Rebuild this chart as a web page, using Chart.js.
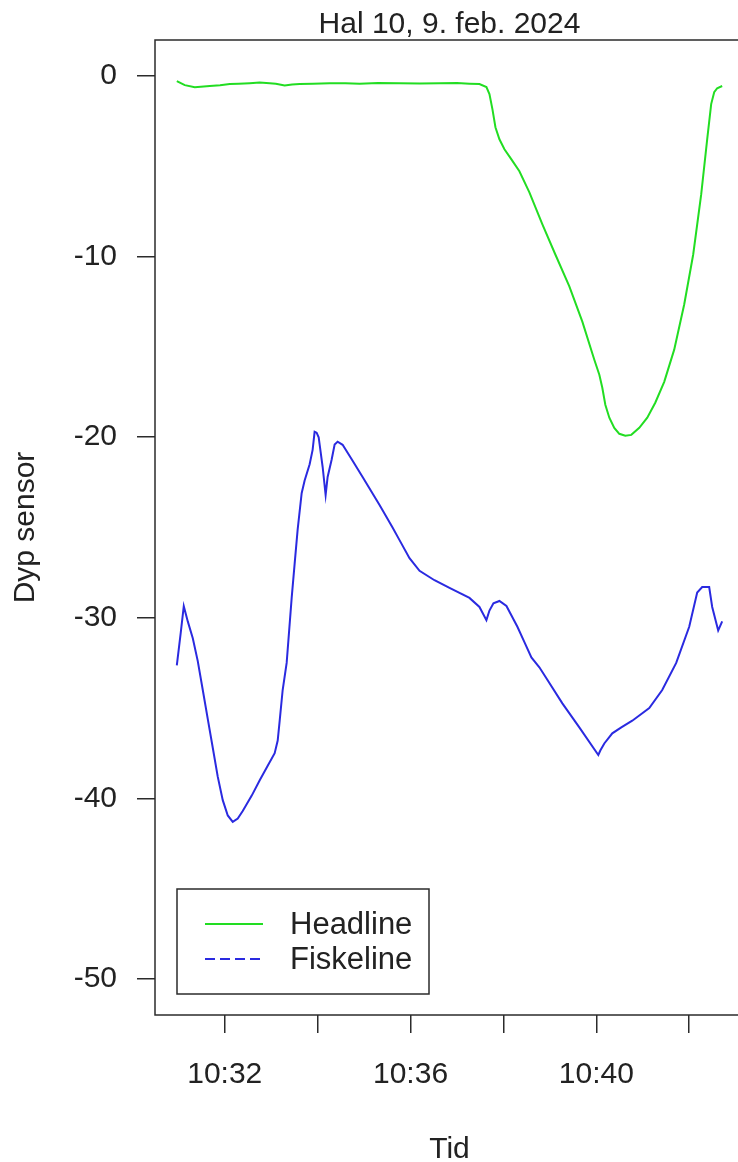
<!DOCTYPE html>
<html>
<head>
<meta charset="utf-8">
<script src="https://cdn.jsdelivr.net/npm/chart.js@4/dist/chart.umd.min.js"></script>
<style>
  html, body { margin: 0; padding: 0; background: #fff; overflow: hidden; width: 738px; height: 1162px; }
  canvas { display: block; position: absolute; left: 0; top: 0; }
</style>
</head>
<body>
<canvas id="c" width="760" height="1162"></canvas>
<script>
// ---- Data (time in minutes after 10:00, value = sensor depth) ----
const headlineTime = [30.968, 31.14, 31.355, 31.677, 31.9, 32.108, 32.3, 32.538, 32.75, 32.968, 33.1, 33.29, 33.45, 33.613, 33.9, 34.258, 34.6, 34.903, 35.3, 35.763, 36.2, 36.624, 37.0, 37.269, 37.484, 37.634, 37.699, 37.763, 37.828, 37.914, 38.022, 38.172, 38.344, 38.559, 38.839, 39.118, 39.419, 39.699, 39.957, 40.065, 40.129, 40.194, 40.280, 40.387, 40.495, 40.624, 40.753, 40.925, 41.097, 41.269, 41.462, 41.677, 41.892, 42.086, 42.258, 42.387, 42.473, 42.538, 42.602, 42.710];
const headlineDepth = [-0.28, -0.5, -0.62, -0.55, -0.5, -0.44, -0.42, -0.39, -0.36, -0.39, -0.42, -0.52, -0.46, -0.44, -0.42, -0.39, -0.4, -0.42, -0.38, -0.39, -0.41, -0.39, -0.38, -0.42, -0.44, -0.61, -1.0, -1.83, -2.83, -3.50, -4.05, -4.61, -5.27, -6.44, -8.21, -9.88, -11.65, -13.60, -15.71, -16.54, -17.26, -18.20, -18.92, -19.48, -19.81, -19.92, -19.87, -19.48, -18.92, -18.09, -16.93, -15.15, -12.65, -9.88, -6.55, -3.50, -1.55, -0.89, -0.67, -0.55];

const fiskelineTime = [30.968, 31.054, 31.118, 31.204, 31.312, 31.419, 31.527, 31.634, 31.742, 31.849, 31.957, 32.065, 32.172, 32.280, 32.387, 32.581, 32.753, 32.925, 33.075, 33.140, 33.183, 33.247, 33.333, 33.441, 33.505, 33.570, 33.656, 33.720, 33.828, 33.892, 33.935, 33.978, 34.022, 34.108, 34.172, 34.215, 34.301, 34.366, 34.430, 34.538, 34.753, 34.968, 35.333, 35.613, 35.763, 35.978, 36.194, 36.516, 36.839, 37.269, 37.484, 37.634, 37.699, 37.785, 37.914, 38.065, 38.301, 38.452, 38.602, 38.774, 38.925, 39.269, 39.634, 40.043, 40.086, 40.172, 40.344, 40.538, 40.774, 41.140, 41.419, 41.720, 42.000, 42.172, 42.280, 42.430, 42.495, 42.624, 42.710];
const fiskelineDepth = [-32.63, -30.8, -29.36, -30.2, -31.13, -32.4, -34.0, -35.6, -37.2, -38.8, -40.1, -40.95, -41.3, -41.12, -40.7, -39.85, -39.0, -38.2, -37.5, -36.8, -35.7, -34.0, -32.5, -28.9, -27.0, -25.1, -23.1, -22.4, -21.5, -20.7, -19.7, -19.75, -20.0, -21.65, -23.2, -22.2, -21.25, -20.4, -20.25, -20.42, -21.3, -22.2, -23.75, -25.0, -25.7, -26.7, -27.4, -27.92, -28.35, -28.9, -29.4, -30.13, -29.6, -29.2, -29.07, -29.35, -30.5, -31.35, -32.2, -32.74, -33.35, -34.74, -36.07, -37.6, -37.35, -36.96, -36.4, -36.07, -35.7, -35.0, -34.0, -32.5, -30.5, -28.6, -28.3, -28.3, -29.4, -30.7, -30.2];

const xTickMinutes = [32, 34, 36, 38, 40, 42];
const xTickLabels = ["10:32", "", "10:36", "", "10:40", ""];
const yTickValues = [-50, -40, -30, -20, -10, 0];
const yLimits = [-50, 0];

const seriesNames = ["Headline", "Fiskeline"];
const titleText = "Hal 10, 9. feb. 2024";
const xTitleText = "Tid";
const yTitleText = "Dyp sensor";

// ---- Build datasets ----
function toPoints(xs, ys) { return xs.map((x, i) => ({ x: x, y: ys[i] })); }
const allX = headlineTime.concat(fiskelineTime);
const xmin0 = Math.min(...allX), xmax0 = Math.max(...allX);
const xext = (xmax0 - xmin0) * 0.04;
const yext = (yLimits[1] - yLimits[0]) * 0.04;

const FONT = '"Liberation Sans", Arial, Helvetica, sans-serif';
const INK = '#2b2b2b';
const GREEN = '#22dd22';
const BLUE = '#2a2ae0';

const decor = {
  id: 'decor',
  afterDraw(chart) {
    const ctx = chart.ctx;
    const a = chart.chartArea;
    ctx.save();
    // plot box
    ctx.strokeStyle = INK;
    ctx.lineWidth = 1.5;
    ctx.strokeRect(a.left, a.top, a.right - a.left, a.bottom - a.top);
    // title
    ctx.fillStyle = '#222';
    ctx.font = '30px ' + FONT;
    ctx.textAlign = 'center';
    ctx.textBaseline = 'alphabetic';
    const cx = (a.left + a.right) / 2;
    ctx.fillText(titleText, cx, 33);
    // x title
    ctx.fillText(xTitleText, cx, 1158);
    // y title
    ctx.save();
    ctx.translate(34, (a.top + a.bottom) / 2);
    ctx.rotate(-Math.PI / 2);
    ctx.fillText(yTitleText, 0, 0);
    ctx.restore();
    // legend
    const lx = 177, ly = 889, lw = 252, lh = 105;
    ctx.fillStyle = '#fff';
    ctx.fillRect(lx, ly, lw, lh);
    ctx.strokeStyle = INK;
    ctx.lineWidth = 1.5;
    ctx.strokeRect(lx, ly, lw, lh);
    const ds = chart.data.datasets;
    const rows = [924, 959];
    ctx.font = '31px ' + FONT;
    ctx.textAlign = 'left';
    ctx.textBaseline = 'middle';
    ds.forEach((d, i) => {
      ctx.beginPath();
      ctx.strokeStyle = d.borderColor;
      ctx.lineWidth = 2;
      ctx.setLineDash(i === 1 ? [10, 5] : []);
      ctx.moveTo(205, rows[i]);
      ctx.lineTo(263, rows[i]);
      ctx.stroke();
      ctx.setLineDash([]);
      ctx.fillStyle = '#222';
      ctx.fillText(d.label, 290, rows[i] + 1);
    });
    ctx.restore();
  }
};

new Chart(document.getElementById('c'), {
  type: 'line',
  data: {
    datasets: [
      { label: seriesNames[0], data: toPoints(headlineTime, headlineDepth), borderColor: GREEN, borderWidth: 2, pointRadius: 0, tension: 0, fill: false },
      { label: seriesNames[1], data: toPoints(fiskelineTime, fiskelineDepth), borderColor: BLUE, borderWidth: 2, pointRadius: 0, tension: 0, fill: false }
    ]
  },
  options: {
    responsive: false,
    animation: false,
    layout: { padding: { left: 0, top: 40, right: 16, bottom: 0 } },
    plugins: { legend: { display: false }, tooltip: { enabled: false }, title: { display: false } },
    scales: {
      x: {
        type: 'linear',
        min: xmin0 - xext,
        max: xmax0 + xext,
        afterFit(s) { s.height = 147; },
        afterBuildTicks(s) { s.ticks = xTickMinutes.map(v => ({ value: v })); },
        border: { display: false },
        grid: { display: true, drawOnChartArea: false, drawTicks: true, tickLength: 18, color: INK, lineWidth: 1.5 },
        ticks: {
          autoSkip: false, maxRotation: 0, minRotation: 0, padding: 24,
          color: '#222', font: { family: FONT, size: 30 },
          callback(v) { const i = xTickMinutes.indexOf(v); return i >= 0 ? xTickLabels[i] : ''; }
        }
      },
      y: {
        type: 'linear',
        min: yLimits[0] - yext,
        max: yLimits[1] + yext,
        afterFit(s) { s.width = 155; },
        afterBuildTicks(s) { s.ticks = yTickValues.map(v => ({ value: v })); },
        border: { display: false },
        grid: { display: true, drawOnChartArea: false, drawTicks: true, tickLength: 18, color: INK, lineWidth: 1.5 },
        ticks: {
          padding: 20, color: '#222', font: { family: FONT, size: 30 },
          callback(v) { return String(v); }
        }
      }
    }
  },
  plugins: [decor]
});
</script>
</body>
</html>
